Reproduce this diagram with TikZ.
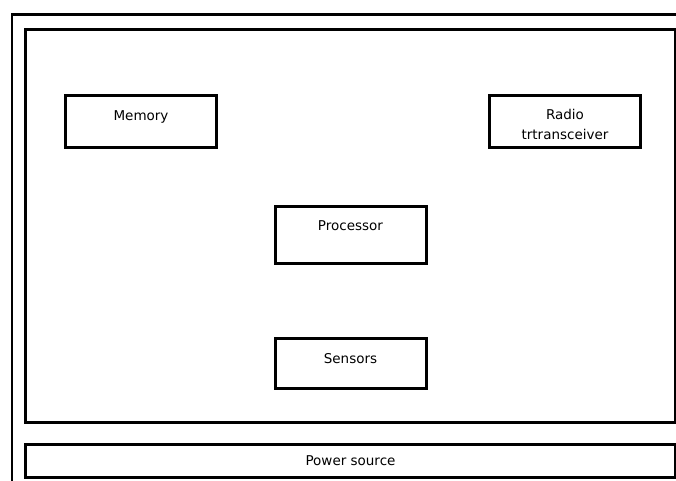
\documentclass[tikz,border=0pt]{standalone}
\usepackage{fontspec}
\setmainfont{DejaVu Sans}
\usetikzlibrary{positioning}
\tikzset{myframe/.style={draw,line width=3pt}}
\tikzset{myblock/.style={draw,rectangle,line width=3pt,minimum width=151pt,minimum height=52pt,inner sep=0pt,outer sep=0pt}}
\tikzset{mylabel/.style={inner sep=0pt,align=center,font=\fontsize{13.5}{20}\selectfont}}

\begin{document}
\begin{tikzpicture}[x=1pt,y=-1pt]
    \clip (0,0) rectangle (676,480);
    \fill[white] (0,0) rectangle (676,480);
    % outer and inner frame
    \draw[line width=2.5pt] (12,14.5) rectangle (690,495);
    \draw[myframe] (25.5,29.5) rectangle (675.5,422);
    % blocks
    \node[myblock] (memory) at (141,121.5) {};
    \node[myblock] (radio) at (565,121.5) {};
    \node[myblock,minimum height=57pt] (processor) at (350.5,235) {};
    \node[myblock,minimum height=50pt] (sensors) at (350.5,363.5) {};
    \node[mylabel,below=15pt of memory.north] (memorytxt) {Memory};
    \node[mylabel,below=14pt of radio.north] (radiotxt) {Radio\\trtransceiver};
    \node[mylabel,below=14pt of processor.north] (processortxt) {Processor};
    \node[mylabel,below=15pt of sensors.north] (sensorstxt) {Sensors};
    % power source
    \node[myblock,minimum width=650pt,minimum height=33.5pt,font=\fontsize{13.5}{20}\selectfont] (power) at (350.5,460.75) {Power source};
\end{tikzpicture}
\end{document}
